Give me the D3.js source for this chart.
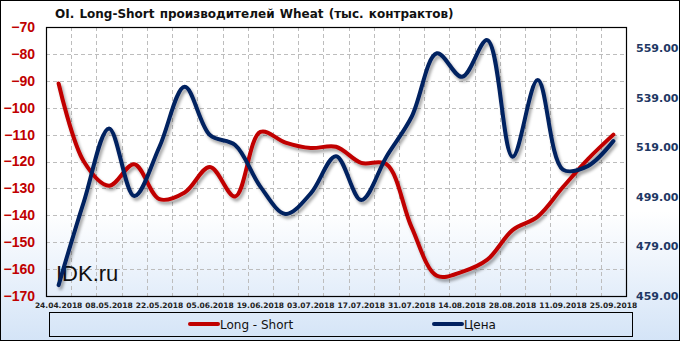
<!DOCTYPE html>
<html>
<head>
<meta charset="utf-8">
<script src="https://cdn.jsdelivr.net/npm/d3@7"></script>
<style>
  body { margin: 0; background: #fff; }
  svg { display: block; }
</style>
</head>
<body>
<div id="chart"></div>
<script>
// data
const dates = ["24.04.2018", "01.05.2018", "08.05.2018", "15.05.2018", "22.05.2018", "29.05.2018",
  "05.06.2018", "12.06.2018", "19.06.2018", "26.06.2018", "03.07.2018", "10.07.2018",
  "17.07.2018", "24.07.2018", "31.07.2018", "07.08.2018", "14.08.2018", "21.08.2018",
  "28.08.2018", "04.09.2018", "11.09.2018", "18.09.2018", "25.09.2018"];
const longShort = [-91, -120, -129, -121, -134, -131.5, -122, -133, -109, -113, -115, -114.5,
  -120.5, -121, -144.5, -162.5, -161, -156.5, -145.5, -140.5, -129.5, -119, -110];
const price = [463.4, 497, 526.6, 499.3, 519.2, 543.4, 523.9, 519.9, 503.1, 492.1, 500.4, 515.4,
  497.7, 515.2, 531.3, 556.9, 547.4, 562.2, 515.2, 546.1, 510, 511.5, 521.5];
const leftTicks = [-70, -80, -90, -100, -110, -120, -130, -140, -150, -160, -170];
const rightTicks = [459, 479, 499, 519, 539, 559];
const title = "OI. Long-Short производителей Wheat (тыс. контрактов)";

const W = 681, H = 341;
const plot = { left: 46, right: 626, top: 27, bottom: 296 };
const red = "#c00000", navy = "#002060";

const svg = d3.select("#chart").append("svg")
  .attr("width", W)
  .attr("height", H);

const defs = svg.append("defs");
const grad = defs.append("linearGradient")
  .attr("id", "bg")
  .attr("x1", 0).attr("y1", 0).attr("x2", 0).attr("y2", 1);
grad.append("stop").attr("offset", "0").attr("stop-color", "#ffffff");
grad.append("stop").attr("offset", "0.62").attr("stop-color", "#ffffff");
grad.append("stop").attr("offset", "1").attr("stop-color", "#d4e4f7");

const shadow = defs.append("filter")
  .attr("id", "shadow")
  .attr("x", "-5%").attr("y", "-5%").attr("width", "110%").attr("height", "110%");
shadow.append("feDropShadow")
  .attr("dx", 2).attr("dy", 3)
  .attr("stdDeviation", 1.6)
  .attr("flood-color", "#000")
  .attr("flood-opacity", 0.35);

// background + outer frame
svg.append("rect")
  .attr("x", 0.5).attr("y", 0.5)
  .attr("width", W - 2).attr("height", H - 1)
  .attr("fill", "url(#bg)")
  .attr("stroke", "#000");

// scales
const x = d3.scaleBand()
  .domain(dates)
  .range([plot.left, plot.right]);

const yL = d3.scaleLinear()
  .domain([-170, -70])
  .range([plot.bottom, plot.top]);

const yR = d3.scaleLinear()
  .domain([459, 567.5])
  .range([plot.bottom, plot.top]);

const cx = d => x(d) + x.bandwidth() / 2;

// grid
const grid = svg.append("g")
  .attr("stroke", "#bdbdbd")
  .attr("stroke-dasharray", "4,3")
  .attr("stroke-width", 1);

grid.selectAll("line.h")
  .data(leftTicks.slice(1, -1))
  .join("line")
  .attr("x1", plot.left).attr("x2", plot.right)
  .attr("y1", d => Math.round(yL(d)) + 0.5)
  .attr("y2", d => Math.round(yL(d)) + 0.5);

grid.selectAll("line.v")
  .data(dates.slice(1))
  .join("line")
  .attr("y1", plot.top).attr("y2", plot.bottom)
  .attr("x1", d => Math.round(x(d)) + 0.5)
  .attr("x2", d => Math.round(x(d)) + 0.5);

// plot frame
svg.append("rect")
  .attr("x", plot.left + 0.5).attr("y", plot.top + 0.5)
  .attr("width", plot.right - plot.left).attr("height", plot.bottom - plot.top)
  .attr("fill", "none")
  .attr("stroke", "#000")
  .attr("stroke-width", 1.2);

// axes
const leftAxis = svg.append("g")
  .attr("transform", `translate(${plot.left},0)`)
  .call(d3.axisLeft(yL).tickValues(leftTicks).tickSize(0).tickPadding(11).tickFormat(d3.format("d")));
leftAxis.select(".domain").remove();
leftAxis.selectAll("text")
  .attr("fill", red)
  .style("font-family", "'Liberation Sans', Arial, sans-serif")
  .style("font-weight", "bold")
  .style("font-size", "14px");

const rightAxis = svg.append("g")
  .attr("transform", `translate(${plot.right},0)`)
  .call(d3.axisRight(yR).tickValues(rightTicks).tickSize(0).tickPadding(10).tickFormat(d3.format(".2f")));
rightAxis.select(".domain").remove();
rightAxis.selectAll("text")
  .attr("fill", "#1f3864")
  .style("font-family", "'DejaVu Sans', Verdana, sans-serif")
  .style("font-weight", "bold")
  .style("font-size", "11px");

const labelDates = dates.filter((d, i) => i % 2 === 0);
const bottomAxis = svg.append("g")
  .attr("transform", `translate(0,${plot.bottom})`)
  .call(d3.axisBottom(x).tickValues(labelDates).tickSize(0).tickPadding(7));
bottomAxis.select(".domain").remove();
bottomAxis.selectAll("text")
  .attr("fill", "#222")
  .style("font-family", "'DejaVu Sans', Verdana, sans-serif")
  .style("font-weight", "bold")
  .style("font-size", "7.5px");

// title
svg.append("text")
  .attr("x", 55)
  .attr("y", 18)
  .style("font-family", "'DejaVu Sans', Verdana, sans-serif")
  .style("font-weight", "bold")
  .style("font-size", "12px")
  .style("word-spacing", "1px")
  .attr("fill", "#111")
  .text(title);

// watermark
svg.append("text")
  .attr("x", 56)
  .attr("y", 281)
  .style("font-family", "'Liberation Sans', Arial, sans-serif")
  .style("font-size", "22px")
  .attr("fill", "#111")
  .text("IDK.ru");

// lines
const lineL = d3.line()
  .x((d, i) => cx(dates[i]))
  .y(d => yL(d))
  .curve(d3.curveCatmullRom);

const lineR = d3.line()
  .x((d, i) => cx(dates[i]))
  .y(d => yR(d))
  .curve(d3.curveCatmullRom);

const lines = svg.append("g").attr("filter", "url(#shadow)");

lines.append("path")
  .datum(longShort)
  .attr("fill", "none")
  .attr("stroke", red)
  .attr("stroke-width", 4)
  .attr("stroke-linecap", "round")
  .attr("d", lineL);

lines.append("path")
  .datum(price)
  .attr("fill", "none")
  .attr("stroke", navy)
  .attr("stroke-width", 4)
  .attr("stroke-linecap", "round")
  .attr("d", lineR);

// legend
const legend = svg.append("g");
legend.append("rect")
  .attr("x", 49.5).attr("y", 312.5)
  .attr("width", 583).attr("height", 24)
  .attr("fill", "none")
  .attr("stroke", "#000");

const legendItems = [
  { name: "Long - Short", color: red, x: 190 },
  { name: "Цена", color: navy, x: 434 }
];
legendItems.forEach(item => {
  legend.append("line")
    .attr("x1", item.x).attr("x2", item.x + 28)
    .attr("y1", 324).attr("y2", 324)
    .attr("stroke", item.color)
    .attr("stroke-width", 4)
    .attr("stroke-linecap", "round");
  legend.append("text")
    .attr("x", item.x + 30)
    .attr("y", 328.5)
    .style("font-family", "'DejaVu Sans', Verdana, sans-serif")
    .style("font-size", "12px")
    .attr("fill", "#111")
    .text(item.name);
});
</script>
</body>
</html>
